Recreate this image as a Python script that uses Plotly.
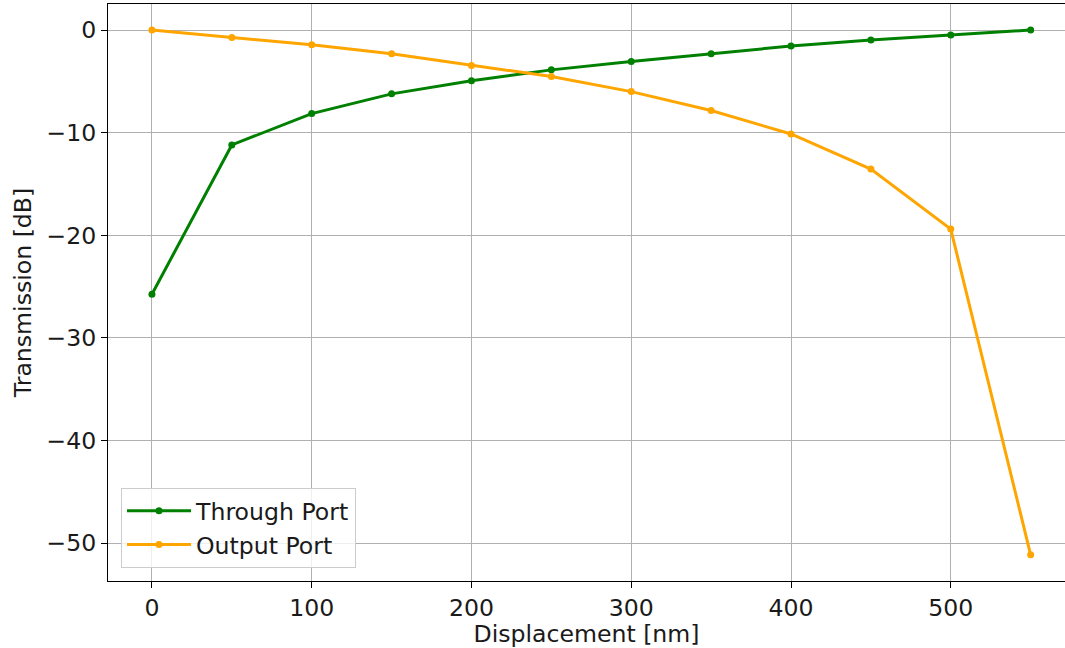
import plotly.graph_objects as go

displacement = [0, 50, 100, 150, 200, 250, 300, 350, 400, 450, 500, 550]
through_port = [-25.75, -11.2, -8.14, -6.22, -4.95, -3.88, -3.06, -2.31, -1.56, -0.98, -0.49, 0.0]
output_port = [0.0, -0.72, -1.44, -2.31, -3.45, -4.53, -6.0, -7.84, -10.13, -13.55, -19.4, -51.15]
x_ticks = [0, 100, 200, 300, 400, 500]
y_ticks = [0, -10, -20, -30, -40, -50]
y_tick_labels = ["0", "\u221210", "\u221220", "\u221230", "\u221240", "\u221250"]

font = dict(family="DejaVu Sans", size=23.6, color="#1a1a1a")

fig = go.Figure()
fig.add_trace(go.Scatter(x=displacement, y=through_port, mode="lines+markers",
                         name="Through Port",
                         line=dict(color="green", width=3),
                         marker=dict(color="green", size=7)))
fig.add_trace(go.Scatter(x=displacement, y=output_port, mode="lines+markers",
                         name="Output Port",
                         line=dict(color="orange", width=3),
                         marker=dict(color="orange", size=7)))

fig.update_layout(
    width=1065, height=648,
    margin=dict(l=108, r=0, t=4, b=67),
    paper_bgcolor="white", plot_bgcolor="white",
    font=font,
    showlegend=True,
    legend=dict(x=0.0136, y=0.0225, xanchor="left", yanchor="bottom",
                bgcolor="rgba(255,255,255,0.8)", bordercolor="#cccccc", borderwidth=1,
                font=dict(family="DejaVu Sans", size=23.6, color="#1a1a1a"),
                itemwidth=64, tracegroupgap=0),
)
fig.update_xaxes(range=[-27.5, 571.5], tickvals=x_ticks, ticktext=[str(v) for v in x_ticks],
                 showgrid=True, gridcolor="#b0b0b0", gridwidth=1,
                 showline=True, linecolor="black", linewidth=1.2, mirror=True,
                 ticks="outside", ticklen=6, tickcolor="black", zeroline=False,
                 title=dict(text="Displacement [nm]", standoff=6, font=font),
                 tickfont=font)
fig.update_yaxes(range=[-53.7, 2.54], tickvals=y_ticks, ticktext=y_tick_labels,
                 showgrid=True, gridcolor="#b0b0b0", gridwidth=1,
                 showline=True, linecolor="black", linewidth=1.2, mirror=True,
                 ticks="outside", ticklen=6, tickcolor="black", zeroline=False,
                 title=dict(text="Transmission [dB]", standoff=8, font=font),
                 tickfont=font)

fig.write_html("out.html")
